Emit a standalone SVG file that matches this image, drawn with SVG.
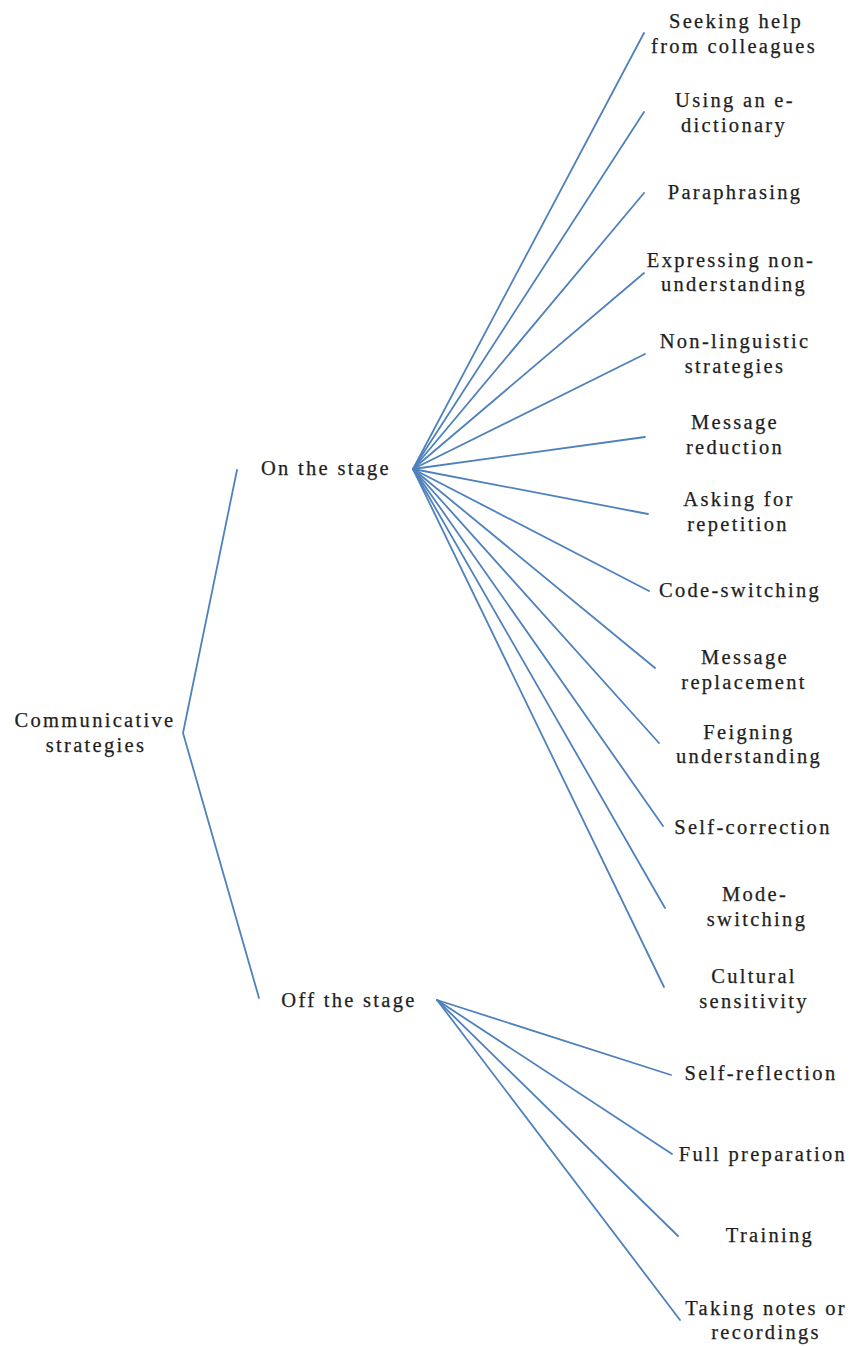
<svg xmlns="http://www.w3.org/2000/svg" width="854" height="1346" viewBox="0 0 854 1346">
  <style>
    text { font-family: "Liberation Serif", "Times New Roman", serif; font-size: 20.5px; letter-spacing: 2.3px; fill: #1e1e1e; stroke: #1e1e1e; stroke-width: 0.25; text-anchor: middle; }
    .edge { stroke: #4f81bd; stroke-width: 1.8; fill: none; stroke-linecap: round; }
  </style>
  <rect width="854" height="1346" fill="#ffffff"/>

  <!-- connectors -->
  <g id="connectors">
    <polyline class="edge" points="237,470 183,733 259,998"/>
    <!-- on the stage fan -->
    <line class="edge" x1="413" y1="469" x2="644" y2="33"/>
    <line class="edge" x1="413" y1="469" x2="644" y2="112"/>
    <line class="edge" x1="413" y1="469" x2="644" y2="193"/>
    <line class="edge" x1="413" y1="469" x2="644" y2="273"/>
    <line class="edge" x1="413" y1="469" x2="645" y2="354"/>
    <line class="edge" x1="413" y1="469" x2="645" y2="437"/>
    <line class="edge" x1="413" y1="469" x2="648" y2="514"/>
    <line class="edge" x1="413" y1="469" x2="649" y2="591"/>
    <line class="edge" x1="413" y1="469" x2="655" y2="668"/>
    <line class="edge" x1="413" y1="469" x2="659" y2="743"/>
    <line class="edge" x1="413" y1="469" x2="663" y2="826"/>
    <line class="edge" x1="413" y1="469" x2="665" y2="908"/>
    <line class="edge" x1="413" y1="469" x2="664" y2="987"/>
    <!-- off the stage fan -->
    <line class="edge" x1="437" y1="1000" x2="671" y2="1075"/>
    <line class="edge" x1="437" y1="1000" x2="672" y2="1154"/>
    <line class="edge" x1="437" y1="1000" x2="678" y2="1236"/>
    <line class="edge" x1="437" y1="1000" x2="680" y2="1320"/>
  </g>

  <!-- root -->
  <g id="root">
    <text x="95" y="727">Communicative</text>
    <text x="96" y="752">strategies</text>
  </g>

  <!-- branches -->
  <g id="on-stage"><text x="326" y="475">On the stage</text></g>
  <g id="off-stage"><text x="349" y="1007">Off the stage</text></g>

  <!-- on the stage leaves -->
  <g id="seeking-help">
    <text x="736" y="28">Seeking help</text>
    <text x="734" y="53">from colleagues</text>
  </g>
  <g id="e-dictionary">
    <text x="735" y="107">Using an e-</text>
    <text x="734" y="132">dictionary</text>
  </g>
  <g id="paraphrasing"><text x="735" y="199">Paraphrasing</text></g>
  <g id="expressing">
    <text x="731" y="267">Expressing non-</text>
    <text x="734" y="291">understanding</text>
  </g>
  <g id="non-linguistic">
    <text x="735" y="348">Non-linguistic</text>
    <text x="735" y="373">strategies</text>
  </g>
  <g id="message-reduction">
    <text x="735" y="429">Message</text>
    <text x="735" y="454">reduction</text>
  </g>
  <g id="asking-repetition">
    <text x="739" y="506">Asking for</text>
    <text x="738" y="531">repetition</text>
  </g>
  <g id="code-switching"><text x="740" y="597">Code-switching</text></g>
  <g id="message-replacement">
    <text x="745" y="664">Message</text>
    <text x="744" y="689">replacement</text>
  </g>
  <g id="feigning">
    <text x="749" y="739">Feigning</text>
    <text x="749" y="763">understanding</text>
  </g>
  <g id="self-correction"><text x="753" y="834">Self-correction</text></g>
  <g id="mode-switching">
    <text x="755" y="901">Mode-</text>
    <text x="757" y="926">switching</text>
  </g>
  <g id="cultural">
    <text x="754" y="983">Cultural</text>
    <text x="754" y="1008">sensitivity</text>
  </g>

  <!-- off the stage leaves -->
  <g id="self-reflection"><text x="761" y="1080">Self-reflection</text></g>
  <g id="full-preparation"><text x="763" y="1161">Full preparation</text></g>
  <g id="training"><text x="770" y="1242">Training</text></g>
  <g id="taking-notes">
    <text x="766" y="1315">Taking notes or</text>
    <text x="766" y="1339">recordings</text>
  </g>
</svg>
